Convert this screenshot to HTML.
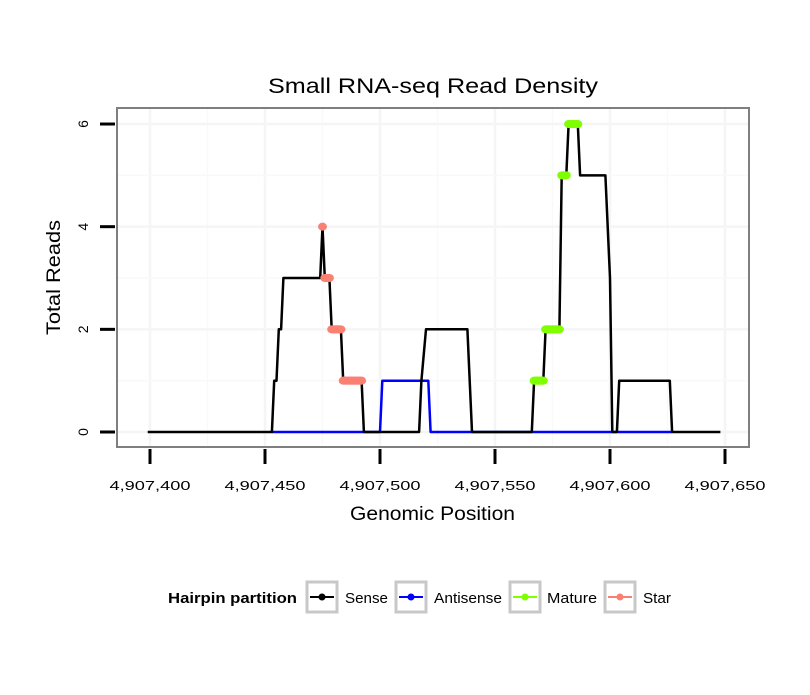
<!DOCTYPE html>
<html><head><meta charset="utf-8"><style>
body{margin:0;background:#fff;}
svg text{font-family:"Liberation Sans",sans-serif;}
</style></head><body>
<svg id="chart" width="810" height="690" xmlns="http://www.w3.org/2000/svg">
<rect width="810" height="690" fill="#fff"/>
<text x="268" y="93" font-size="21" textLength="330" lengthAdjust="spacingAndGlyphs">Small RNA-seq Read Density</text>
<rect x="117" y="108" width="632" height="339" fill="#fff"/>
<g id="grid"></g>
<g id="marks"></g>
<rect x="117" y="108" width="632" height="339" fill="none" stroke="#7f7f7f" stroke-width="2"/>
<g id="axes"></g>
<text x="350" y="520" font-size="19" textLength="165" lengthAdjust="spacingAndGlyphs">Genomic Position</text>
<text transform="translate(60,335) rotate(-90)" font-size="19" textLength="115" lengthAdjust="spacingAndGlyphs">Total Reads</text>
<g>
<text x="168" y="603" font-size="15" font-weight="bold" textLength="129" lengthAdjust="spacingAndGlyphs">Hairpin partition</text>
<g><rect x="307" y="582" width="30" height="30" fill="#fff" stroke="#c8c8c8" stroke-width="3"/><line x1="310" y1="597" x2="334" y2="597" stroke="#000" stroke-width="2"/><circle cx="322" cy="597" r="3.5" fill="#000"/><text x="345" y="603" font-size="15" textLength="43" lengthAdjust="spacingAndGlyphs">Sense</text></g>
<g><rect x="396" y="582" width="30" height="30" fill="#fff" stroke="#c8c8c8" stroke-width="3"/><line x1="399" y1="597" x2="423" y2="597" stroke="#0000ff" stroke-width="2"/><circle cx="411" cy="597" r="3.5" fill="#0000ff"/><text x="434" y="603" font-size="15" textLength="68" lengthAdjust="spacingAndGlyphs">Antisense</text></g>
<g><rect x="510" y="582" width="30" height="30" fill="#fff" stroke="#c8c8c8" stroke-width="3"/><line x1="513" y1="597" x2="537" y2="597" stroke="#7fff00" stroke-width="2"/><circle cx="525" cy="597" r="3.5" fill="#7fff00"/><text x="547" y="603" font-size="15" textLength="50" lengthAdjust="spacingAndGlyphs">Mature</text></g>
<g><rect x="605" y="582" width="30" height="30" fill="#fff" stroke="#c8c8c8" stroke-width="3"/><line x1="608" y1="597" x2="632" y2="597" stroke="#fa8072" stroke-width="2"/><circle cx="620" cy="597" r="3.5" fill="#fa8072"/><text x="643" y="603" font-size="15" textLength="28" lengthAdjust="spacingAndGlyphs">Star</text></g>
</g>
</svg>
<script>
const xTicks = [4907400, 4907450, 4907500, 4907550, 4907600, 4907650];
const yTicks = [0, 2, 4, 6];
const sensePos = [4907399,4907453,4907454,4907455,4907456,4907457,4907458,4907474,4907475,4907476,4907478,4907479,4907483,4907484,4907492,4907493,4907517,4907518,4907520,4907538,4907540,4907566,4907567,4907571,4907572,4907578,4907579,4907581,4907582,4907586,4907587,4907598,4907600,4907601,4907603,4907604,4907626,4907627,4907648];
const senseVal = [0,0,1,1,2,2,3,3,4,3,3,2,2,1,1,0,0,1,2,2,0,0,1,1,2,2,5,5,6,6,5,5,3,0,0,1,1,0,0];
const antiPos = [4907453,4907500,4907501,4907521,4907522,4907627];
const antiVal = [0,0,1,1,0,0];
const maturePos = [4907567,4907568,4907569,4907570,4907571,4907572,4907573,4907574,4907575,4907576,4907577,4907578,4907579,4907580,4907581,4907582,4907583,4907584,4907585,4907586];
const matureVal = [1,1,1,1,1,2,2,2,2,2,2,2,5,5,5,6,6,6,6,6];
const starPos = [4907475,4907476,4907477,4907478,4907479,4907480,4907481,4907482,4907483,4907484,4907485,4907486,4907487,4907488,4907489,4907490,4907491,4907492];
const starVal = [4,3,3,3,2,2,2,2,2,1,1,1,1,1,1,1,1,1];

const NS='http://www.w3.org/2000/svg';
const X = v => 150 + (v - 4907400) * 2.3;
const Y = v => 432 - v * 51.33;
function mk(tag, attrs, parent){const e=document.createElementNS(NS,tag);for(const k in attrs)e.setAttribute(k,attrs[k]);parent.appendChild(e);return e;}
const grid=document.getElementById('grid'), marks=document.getElementById('marks'), axes=document.getElementById('axes');
for(let i=0;i<xTicks.length;i++){
  const x=X(xTicks[i]);
  const g=mk('line',{x1:x,x2:x,y1:108,y2:447,stroke:'#f5f5f5','stroke-width':2.5},grid);
  
  
  if(i<xTicks.length-1){const xm=X((xTicks[i]+xTicks[i+1])/2);
    const gm=mk('line',{x1:xm,x2:xm,y1:108,y2:447,stroke:'#f9f9f9','stroke-width':1.5},grid);
    
    }
  const t=mk('line',{x1:x,x2:x,y1:449,y2:464,stroke:'#000','stroke-width':3},axes);
  
  
  const l=mk('text',{x:x-40.5,y:490,'font-size':13,textLength:81,lengthAdjust:'spacingAndGlyphs'},axes);
  l.textContent=xTicks[i].toLocaleString('en-US');
  
  
}
for(let i=0;i<yTicks.length;i++){
  const y=Y(yTicks[i]);
  const g=mk('line',{x1:117,x2:749,y1:y,y2:y,stroke:'#f5f5f5','stroke-width':2.5},grid);
  
  
  if(i<yTicks.length-1){const ym=Y((yTicks[i]+yTicks[i+1])/2);
    const gm=mk('line',{x1:117,x2:749,y1:ym,y2:ym,stroke:'#f9f9f9','stroke-width':1.5},grid);
    
    }
  const t=mk('line',{x1:100,x2:115,y1:y,y2:y,stroke:'#000','stroke-width':3},axes);
  
  
  const l=mk('text',{transform:`translate(88,${y}) rotate(-90)`,'font-size':14,'text-anchor':'middle'},axes);
  l.textContent=yTicks[i];
  
  
}
function pts(p,v){return p.map((d,i)=>X(d).toFixed(1)+','+Y(v[i]).toFixed(1)).join(' ');}
const anti=mk('polyline',{points:pts(antiPos,antiVal),fill:'none',stroke:'#0000ff','stroke-width':2.5,'stroke-linejoin':'round'},marks);


const sense=mk('polyline',{points:pts(sensePos,senseVal),fill:'none',stroke:'#000','stroke-width':2.5,'stroke-linejoin':'round'},marks);


function dots(p,v,color,name){
  for(let i=0;i<p.length;i++){
    const c=mk('ellipse',{cx:X(p[i]),cy:Y(v[i]),rx:4.5,ry:4,fill:color},marks);
    
    
    if(i>0&&v[i]===v[i-1]){
      const s=mk('line',{x1:X(p[i-1]),x2:X(p[i]),y1:Y(v[i]),y2:Y(v[i]),stroke:color,'stroke-width':8},marks);
      
      
    }
  }
}
dots(starPos,starVal,'#fa8072','star-point');
dots(maturePos,matureVal,'#7fff00','mature-point');
</script>
</body></html>
